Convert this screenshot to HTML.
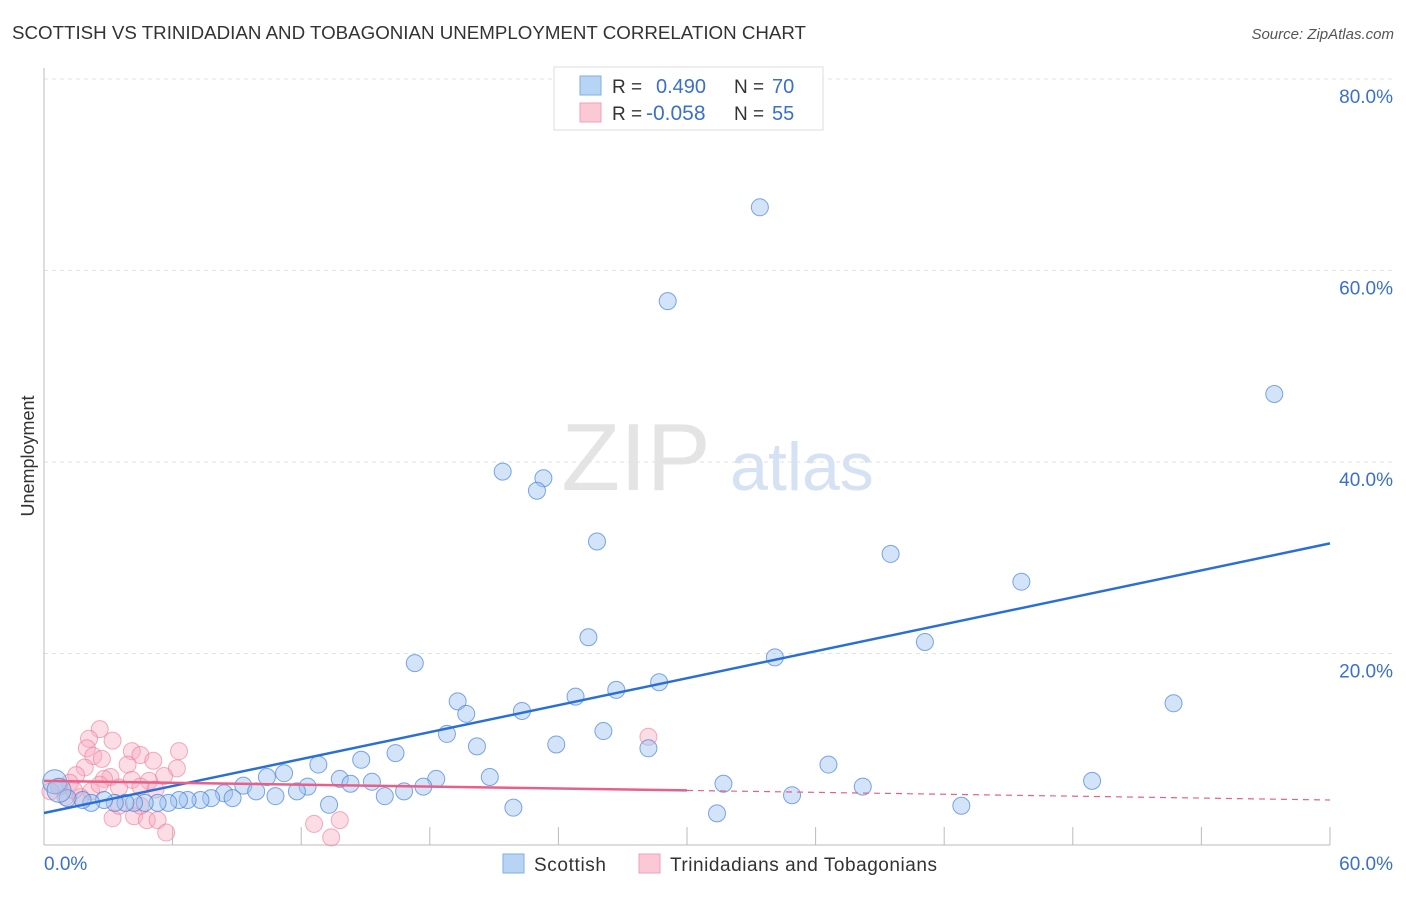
<!DOCTYPE html>
<html><head><meta charset="utf-8"><style>
body{margin:0;background:#fff;font-family:"Liberation Sans",sans-serif;}
svg text{font-family:"Liberation Sans",sans-serif;}
</style></head><body>
<svg id="chart" width="1406" height="892" xmlns="http://www.w3.org/2000/svg">
<text x="12" y="39" font-size="18" fill="#333" textLength="794" lengthAdjust="spacingAndGlyphs">SCOTTISH VS TRINIDADIAN AND TOBAGONIAN UNEMPLOYMENT CORRELATION CHART</text>
<text x="1394" y="39" font-size="15" fill="#555" font-style="italic" text-anchor="end">Source: ZipAtlas.com</text>
<text x="34" y="456" font-size="18" fill="#333" text-anchor="middle" transform="rotate(-90 34 456)">Unemployment</text>
<text x="636" y="490" font-size="96" fill="#e4e4e4" font-family="Liberation Serif" text-anchor="middle">ZIP</text>
<text x="802" y="490" font-size="68" fill="#d4e2f4" text-anchor="middle">atlas</text>
<g id="grid"></g>
<g id="axes"></g>
<g id="pts"></g>
<g id="lines"></g>
<g>
<rect x="554" y="67" width="269" height="63" fill="#fff" stroke="#ddd"/>
<rect x="580" y="76" width="21" height="19" fill="#b8d4f4" stroke="#7eaee8"/>
<rect x="580" y="103" width="21" height="19" fill="#fbc8d6" stroke="#f0a0b8"/>
<text x="612" y="93" font-size="19" fill="#333">R =</text><text x="656" y="93" font-size="20" fill="#3a70cc">0.490</text>
<text x="734" y="93" font-size="19" fill="#333">N =</text><text x="772" y="93" font-size="20" fill="#3a70cc">70</text>
<text x="612" y="120" font-size="19" fill="#333">R =</text><text x="646" y="120" font-size="21" fill="#3a70cc">-0.058</text>
<text x="734" y="120" font-size="19" fill="#333">N =</text><text x="772" y="120" font-size="20" fill="#3a70cc">55</text>
</g>
<g>
<rect x="503" y="854" width="21" height="19" fill="#b8d4f4" stroke="#7eaee8"/>
<text x="534" y="871" font-size="19" fill="#333" textLength="72">Scottish</text>
<rect x="639" y="854" width="21" height="19" fill="#fbc8d6" stroke="#f0a0b8"/>
<text x="670" y="871" font-size="19" fill="#333" textLength="267">Trinidadians and Tobagonians</text>
</g>
</svg>
<script>
const yTicks=[20,40,60,80];
const yTickLabels=["20.0%","40.0%","60.0%","80.0%"];
const xTickLabels=["0.0%","60.0%"];
const blueX=[33.4,29.1,57.4,21.4,23.3,23.0,25.8,39.5,45.6,25.4,41.1,17.3,34.1,19.3,19.7,24.8,26.7,28.7,22.3,52.7,18.8,20.2,23.9,26.1,28.2,16.4,14.8,12.8,36.6,11.2,10.4,20.8,18.3,13.8,14.3,15.3,48.9,31.7,9.3,12.3,17.7,38.2,9.9,11.8,16.8,8.4,15.9,10.8,34.9,7.8,8.8,7.3,6.7,6.3,5.8,5.3,4.7,4.2,3.8,3.3,2.8,2.2,1.8,1.1,13.3,21.9,42.8,31.4,0.5,0.7];
const blueY=[66.6,56.8,47.1,39.0,38.3,37.0,31.7,30.4,27.5,21.7,21.2,19.0,19.6,15.0,13.7,15.5,16.2,17.0,14.0,14.8,11.6,10.3,10.5,11.9,10.1,9.6,8.9,8.4,8.4,7.5,7.1,7.1,6.9,6.9,6.4,6.6,6.7,6.4,6.2,6.1,6.1,6.1,5.6,5.6,5.6,5.4,5.1,5.1,5.2,4.9,4.9,4.7,4.7,4.7,4.4,4.4,4.4,4.4,4.4,4.4,4.7,4.4,4.7,4.9,4.2,3.9,4.1,3.3,6.6,5.7];
const pinkX=[2.6,2.1,2.0,3.2,6.3,4.1,4.5,2.3,2.7,5.1,3.9,6.2,1.9,28.2,5.6,3.1,1.5,2.8,4.1,4.9,1.2,0.7,4.5,3.5,5.2,2.2,0.3,1.0,3.2,4.2,4.8,5.3,12.6,13.8,13.4,5.7,3.5,4.5,1.7,2.6,1.4];
const pinkY=[12.1,11.1,10.1,10.9,9.8,9.8,9.4,9.3,9.0,8.8,8.4,8.0,8.1,11.3,7.2,7.1,7.3,6.9,6.8,6.7,6.5,6.1,6.1,6.0,5.8,5.6,5.6,5.0,2.8,3.0,2.6,2.6,2.2,2.6,0.8,1.3,4.1,4.1,5.0,6.3,5.7];
const blueLine=[3.34,31.5];
const pinkLine=[6.7,4.7];
const NS="http://www.w3.org/2000/svg";
const sx=v=>44+v*1286/60;
const sy=v=>845-v*9.575;
function mk(tag,attrs,parent){const e=document.createElementNS(NS,tag);for(const k in attrs)e.setAttribute(k,attrs[k]);document.getElementById(parent).appendChild(e);return e;}
yTicks.forEach((t,i)=>{
 const g=mk('line',{x1:44,x2:1394,y1:sy(t),y2:sy(t),stroke:'#e2e2e2','stroke-dasharray':'4,4'},'grid');
 
 
 const l=mk('text',{x:1393,y:sy(t)+24,'font-size':19,fill:'#3a70cc','text-anchor':'end'},'axes');
 l.textContent=yTickLabels[i];
 
 
});
const ax=mk('line',{x1:44,x2:44,y1:68,y2:845,stroke:'#bbb'},'axes');


const bx=mk('line',{x1:44,x2:1330,y1:845,y2:845,stroke:'#bbb'},'axes');


for(let i=1;i<=10;i++){const t=mk('line',{x1:sx(i*6),x2:sx(i*6),y1:827,y2:845,stroke:'#bbb'},'axes');
 
 }
const x0=mk('text',{x:44,y:870,'font-size':19,fill:'#3a70cc'},'axes');x0.textContent=xTickLabels[0];


const x1=mk('text',{x:1393,y:870,'font-size':19,fill:'#3a70cc','text-anchor':'end'},'axes');x1.textContent=xTickLabels[1];


pinkX.forEach((x,i)=>{const c=mk('circle',{cx:sx(x),cy:sy(pinkY[i]),r:8.5,fill:'rgba(248,170,192,0.4)',stroke:'rgba(236,120,150,0.6)','stroke-width':1},'pts');
 
 });
blueX.forEach((x,i)=>{const c=mk('circle',{cx:sx(x),cy:sy(blueY[i]),r:(i>=68?12:8.5),fill:'rgba(160,196,240,0.45)',stroke:'rgba(70,130,220,0.7)','stroke-width':1},'pts');
 
 });
const bl=mk('line',{x1:sx(0),y1:sy(blueLine[0]),x2:sx(60),y2:sy(blueLine[1]),stroke:'#2a6fd6','stroke-width':2.5},'lines');


const py=x=>pinkLine[0]+(pinkLine[1]-pinkLine[0])*x/60;
const pl=mk('line',{x1:sx(0),y1:sy(py(0)),x2:sx(30),y2:sy(py(30)),stroke:'#e8608a','stroke-width':2.5},'lines');


const pd=mk('line',{x1:sx(30),y1:sy(py(30)),x2:sx(60),y2:sy(py(60)),stroke:'#e8608a','stroke-width':1.2,'stroke-dasharray':'6,5'},'lines');


</script>
</body></html>
